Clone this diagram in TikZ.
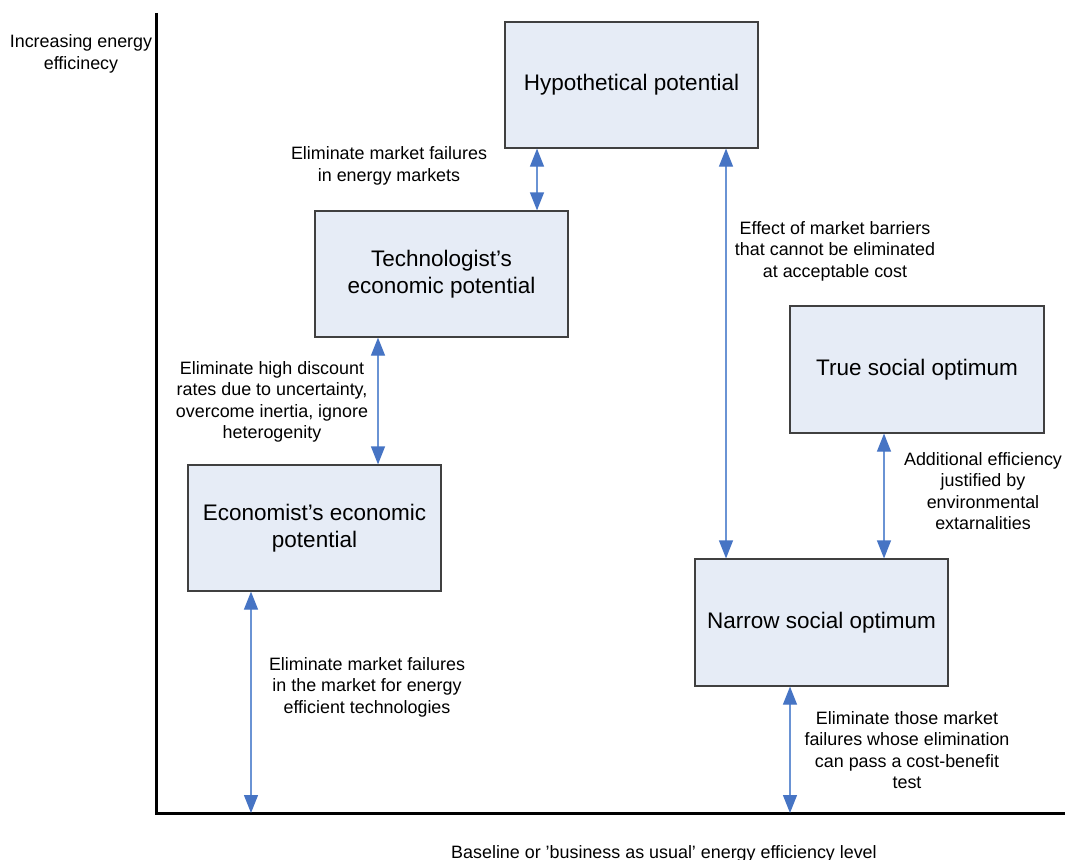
\documentclass[tikz,border=0pt]{standalone}
\usepackage{fontspec}
\setmainfont{Liberation Sans}
\usetikzlibrary{arrows.meta}
\definecolor{boxfill}{HTML}{E6ECF6}
\definecolor{boxline}{HTML}{404040}
\definecolor{headblue}{HTML}{4674C4}
\definecolor{shaftblue}{HTML}{6A93D4}
\begin{document}
\begin{tikzpicture}[x=1pt,y=-1pt,
  potential/.style={draw=boxline,line width=1.2pt,fill=boxfill,inner sep=0pt,
    minimum width=253pt,minimum height=126pt,align=center,
    font=\fontsize{22.5}{27}\selectfont},
  note/.style={align=center,inner sep=0pt,font=\fontsize{17.9}{21.5}\selectfont},
  link/.style={draw=shaftblue,line width=1.2pt,
    {Triangle[width=14pt,length=18pt,color=headblue]}-{Triangle[width=14pt,length=18pt,color=headblue]}},
  axis/.style={line width=3pt,black}]
\useasboundingbox (0,0) rectangle (1065,859);

% axes
\coordinate (origin) at (156,813);
\coordinate (ytop) at (156,13);
\coordinate (xend) at (1065,813);
\draw[axis] (ytop) -- (origin) -- (xend);

% potentials
\node[potential] (hyp) at (631.5,85) {Hypothetical potential};
\node[potential] (tech) at (441.5,274) {Technologist’s\\economic potential};
\node[potential] (econ) at (314.5,528) {Economist’s economic\\potential};
\node[potential,minimum width=254pt,minimum height=127pt] (true) at (917,369.5) {True social optimum};
\node[potential,minimum height=127pt] (narrow) at (821.5,622.5) {Narrow social optimum};

% gaps between the levels
\draw[link] (hyp.south -| 537,0) -- (tech.north -| 537,0);
\draw[link] (hyp.south -| 726,0) -- (narrow.north -| 726,0);
\draw[link] (tech.south -| 378,0) -- (econ.north -| 378,0);
\draw[link] (true.south -| 884,0) -- (narrow.north -| 884,0);
\draw[link] (econ.south -| 251,0) -- (origin -| 251,0);
\draw[link] (narrow.south -| 790,0) -- (origin -| 790,0);

% explanations
\node[note] (n1) at (389,166) {Eliminate market failures\\in energy markets};
\node[note] (n2) at (835,251) {Effect of market barriers\\that cannot be eliminated\\at acceptable cost};
\node[note] (n3) at (272,402) {Eliminate high discount\\rates due to uncertainty,\\overcome inertia, ignore\\heterogenity};
\node[note] (n4) at (983,491) {Additional efficiency\\justified by\\environmental\\extarnalities};
\node[note] (n5) at (367,687) {Eliminate market failures\\in the market for energy\\efficient technologies};
\node[note] (n6) at (907,750) {Eliminate those market\\failures whose elimination\\can pass a cost-benefit\\test};

% axis captions
\node[note] (ylab) at (81,54) {Increasing energy\\efficinecy};
\node[note,anchor=base] (xlab) at (664,858) {Baseline or ’business as usual’ energy efficiency level};
\end{tikzpicture}
\end{document}
